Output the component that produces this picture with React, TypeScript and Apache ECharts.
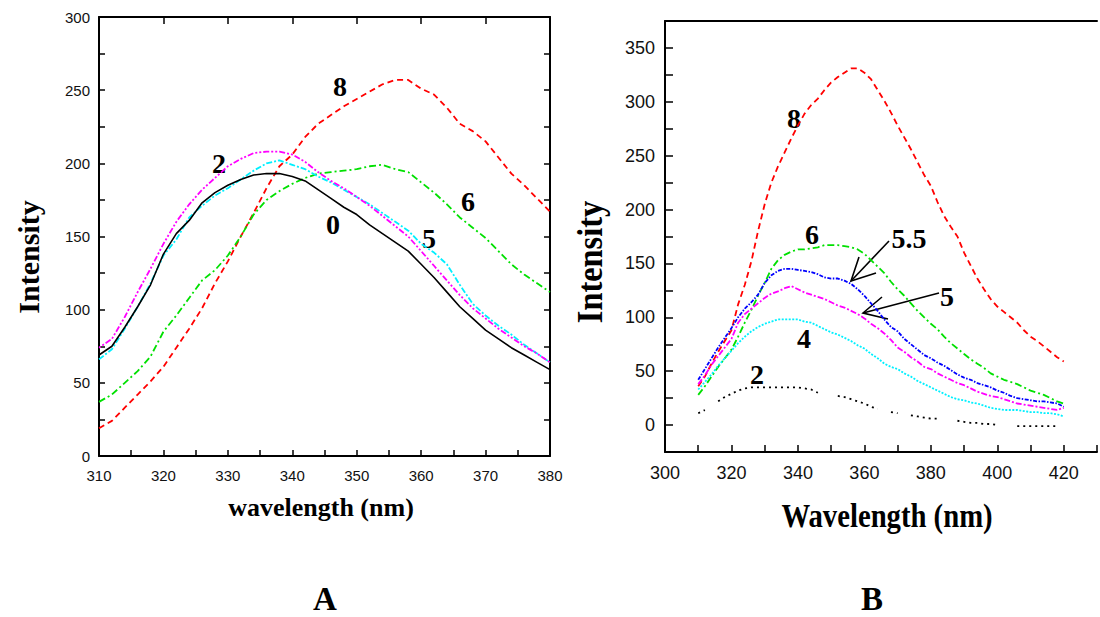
import React, { useEffect, useRef } from "react";
import * as echarts from "echarts";

// ---------- Panel A data ----------
const wavelengthA = [310, 312, 314, 316, 318, 320, 322, 324, 326, 328, 330, 332, 334, 336, 338, 340, 342, 344, 346, 348, 350, 352, 354, 356, 358, 360, 362, 364, 366, 368, 370, 372, 374, 376, 378, 380];
const a0 = [69, 75, 88, 102, 117, 138, 152, 161, 173, 180, 185, 189, 192, 193, 193, 191, 188, 182, 176, 170, 165, 158, 152, 146, 140, 131, 122, 112, 102, 94, 86, 80, 74, 69, 64, 59];
const a2 = [74, 80, 95, 112, 128, 145, 160, 172, 182, 190, 198, 203, 207, 208, 208, 206, 201, 194, 188, 183, 177, 171, 164, 157, 150, 140, 130, 120, 110, 101, 94, 87, 81, 75, 70, 64];
const a5 = [66, 73, 87, 102, 118, 137, 148, 163, 171, 178, 183, 189, 195, 200, 202, 199, 196, 191, 187, 182, 177, 172, 166, 160, 154, 145, 139, 131, 117, 104, 96, 89, 83, 76, 70, 64];
const a6 = [37, 42, 50, 58, 68, 85, 96, 108, 120, 127, 137, 150, 165, 175, 181, 186, 190, 193, 194, 195, 196, 198, 199, 196, 194, 187, 180, 172, 163, 156, 149, 140, 131, 124, 118, 112];
const a8 = [19, 24, 33, 42, 51, 61, 74, 87, 101, 118, 133, 150, 166, 183, 198, 206, 218, 227, 233, 239, 244, 249, 254, 257, 257, 251, 247, 238, 227, 222, 215, 204, 193, 185, 176, 167];

// ---------- Panel B data ----------
const wavelengthB = [310, 312, 314, 316, 318, 320, 322, 324, 326, 328, 330, 332, 334, 336, 338, 340, 342, 344, 346, 348, 350, 352, 354, 356, 358, 360, 362, 364, 366, 368, 370, 372, 374, 376, 378, 380, 382, 384, 386, 388, 390, 392, 394, 396, 398, 400, 402, 404, 406, 408, 410, 412, 414, 416, 418, 420];
const b8 = [36, 45, 57, 68, 78, 88, 112, 130, 152, 180, 205, 225, 240, 253, 266, 278, 289, 297, 303, 311, 318, 323, 327, 331, 331, 327, 321, 311, 301, 290, 278, 267, 256, 244, 232, 222, 207, 194, 184, 175, 160, 148, 136, 126, 117, 110, 105, 100, 95, 88, 82, 78, 73, 68, 63, 59];
const b6 = [28, 36, 45, 54, 62, 70, 82, 95, 107, 120, 132, 145, 153, 158, 161, 163, 163, 164, 165, 167, 167, 167, 166, 165, 163, 159, 153, 147, 141, 133, 126, 120, 113, 106, 100, 94, 89, 82, 76, 71, 66, 61, 57, 53, 48, 45, 42, 40, 38, 35, 32, 30, 28, 25, 22, 20];
const b55 = [42, 52, 62, 72, 81, 90, 100, 108, 114, 121, 132, 139, 143, 145, 145, 144, 143, 142, 140, 137, 136, 136, 134, 131, 126, 120, 113, 106, 98, 91, 87, 80, 75, 70, 65, 62, 58, 55, 51, 47, 44, 42, 39, 37, 35, 32, 30, 27, 25, 24, 23, 22, 22, 21, 20, 17];
const b5 = [38, 46, 56, 64, 72, 80, 95, 103, 108, 113, 118, 122, 124, 127, 129, 126, 123, 121, 119, 117, 114, 111, 109, 106, 103, 99, 94, 90, 85, 79, 72, 68, 63, 59, 54, 52, 48, 45, 42, 39, 37, 34, 31, 29, 27, 26, 24, 22, 20, 19, 18, 17, 16, 15, 14, 16];
const b4 = [33, 40, 47, 55, 62, 69, 76, 82, 87, 91, 94, 96, 98, 98, 98, 98, 96, 95, 92, 89, 86, 84, 81, 78, 74, 71, 66, 62, 57, 54, 52, 48, 45, 41, 38, 35, 32, 29, 26, 24, 23, 21, 20, 18, 16, 15, 14, 14, 14, 13, 12, 12, 11, 11, 10, 8];
const b2 = [11, 14, null, 22, 26, 29, 32, 34, 35, 35, 35, 35, 35, 35, 35, 35, 34, 33, 30, null, null, 27, 26, 24, 22, 20, 17, 15, null, 12, 11, null, 9, 8, 7, 6, 6, null, null, 4, 3, 2, 2, 1, 1, 0, null, null, -1, -1, -1, -1, -1, -1, -1, null];

// ---------- tick labels ----------
const xTicksA = [310, 320, 330, 340, 350, 360, 370, 380];
const yTicksA = [0, 50, 100, 150, 200, 250, 300];
const xTicksB = [300, 320, 340, 360, 380, 400, 420];
const yTicksB = [0, 50, 100, 150, 200, 250, 300, 350];

const pairs = (xs: number[], ys: (number | null)[]) => xs.map((x, i) => [x, ys[i]]);

const SERIF = "'Liberation Serif', 'Times New Roman', serif";
const SANS = "'Liberation Sans', Arial, sans-serif";

export default function App() {
  const ref = useRef<HTMLDivElement>(null);
  useEffect(() => {
    if (!ref.current) return;
    const chart = echarts.init(ref.current, undefined, { renderer: "svg" });
    const axisLine = { show: true, onZero: false, lineStyle: { color: "#000", width: 2 } };
    const baseLabel = { color: "#111", fontFamily: SANS };

    const lineSeries = (name: string, xs: number[], ys: (number | null)[], color: string, type: any, xi: number, yi: number, width = 1.8) => ({
      name,
      type: "line",
      xAxisIndex: xi,
      yAxisIndex: yi,
      data: pairs(xs, ys),
      showSymbol: false,
      symbol: "none",
      connectNulls: false,
      lineStyle: { color, width, type },
      emphasis: { disabled: true },
    });

    const txt = (text: string, x: number, y: number, size: number, extra: any = {}) => ({
      type: "text",
      x,
      y,
      ...extra,
      style: {
        text,
        fontSize: size,
        fontWeight: "bold",
        fontFamily: SERIF,
        fill: "#000",
        align: "center",
        verticalAlign: "middle",
        textAlign: "center",
        textVerticalAlign: "middle",
      },
    });
    const seg = (pts: number[][]) => ({
      type: "polyline",
      shape: { points: pts },
      style: { stroke: "#000", lineWidth: 1.6, fill: null },
    });

    chart.setOption({
      animation: false,
      backgroundColor: "#fff",
      grid: [
        { left: 99, top: 17, width: 451, height: 439 },
        { left: 665, top: 21, width: 442, height: 431 },
      ],
      xAxis: [
        {
          gridIndex: 0, type: "value", position: "bottom", min: 310, max: 380, interval: 5,
          axisLine, splitLine: { show: false },
          axisTick: { inside: true, length: 6, lineStyle: { color: "#000", width: 1.5 } },
          axisLabel: { ...baseLabel, fontSize: 15, margin: 12, formatter: (v: number) => (xTicksA.includes(v) ? String(v) : "") },
        },
        {
          gridIndex: 0, type: "value", position: "top", min: 310, max: 380, interval: 10,
          axisLine, splitLine: { show: false },
          axisTick: { inside: true, length: 7, lineStyle: { color: "#000", width: 1.5 } },
          axisLabel: { show: false },
        },
        {
          gridIndex: 1, type: "value", position: "bottom", min: 300, max: 430, interval: 10,
          axisLine, splitLine: { show: false },
          axisTick: { inside: true, length: 7, lineStyle: { color: "#000", width: 1.5 } },
          axisLabel: { ...baseLabel, fontSize: 18, margin: 12, formatter: (v: number) => (xTicksB.includes(v) ? String(v) : "") },
        },
        {
          gridIndex: 1, type: "value", position: "top", min: 300, max: 430,
          axisLine, splitLine: { show: false }, axisTick: { show: false }, axisLabel: { show: false },
        },
      ],
      yAxis: [
        {
          gridIndex: 0, type: "value", position: "left", min: 0, max: 300, interval: 25,
          axisLine, splitLine: { show: false },
          axisTick: { inside: true, length: 6, lineStyle: { color: "#000", width: 1.5 } },
          axisLabel: { ...baseLabel, fontSize: 15, margin: 9, formatter: (v: number) => (yTicksA.includes(v) ? String(v) : "") },
        },
        {
          gridIndex: 0, type: "value", position: "right", min: 0, max: 300, interval: 25,
          axisLine, splitLine: { show: false },
          axisTick: { inside: true, length: 6, lineStyle: { color: "#000", width: 1.5 } },
          axisLabel: { show: false },
        },
        {
          gridIndex: 1, type: "value", position: "left", min: -25, max: 375, interval: 25,
          axisLine, splitLine: { show: false },
          axisTick: { inside: true, length: 8, lineStyle: { color: "#000", width: 1.5 } },
          axisLabel: { ...baseLabel, fontSize: 18, margin: 10, formatter: (v: number) => (yTicksB.includes(v) ? String(v) : "") },
        },
      ],
      series: [
        lineSeries("A 8", wavelengthA, a8, "#ff0000", [6, 4], 0, 0),
        lineSeries("A 6", wavelengthA, a6, "#00e000", [7, 3, 2, 3], 0, 0),
        lineSeries("A 5", wavelengthA, a5, "#00f0ff", [6, 2, 2, 2], 0, 0),
        lineSeries("A 2", wavelengthA, a2, "#ff00ff", [2, 2, 2, 2, 6, 2], 0, 0),
        lineSeries("A 0", wavelengthA, a0, "#000000", "solid", 0, 0, 1.6),
        lineSeries("B 8", wavelengthB, b8, "#ff0000", [6, 4], 2, 2),
        lineSeries("B 6", wavelengthB, b6, "#00e000", [7, 3, 2, 3], 2, 2),
        lineSeries("B 5.5", wavelengthB, b55, "#0000ff", [4, 1.5, 1.5, 1.5], 2, 2),
        lineSeries("B 5", wavelengthB, b5, "#ff00ff", [6, 2, 2, 2], 2, 2),
        lineSeries("B 4", wavelengthB, b4, "#00f0ff", [2, 1.5], 2, 2),
        lineSeries("B 2", wavelengthB, b2, "#000000", [2, 4], 2, 2),
      ],
      graphic: [
        // Panel A titles
        txt("wavelength (nm)", 321, 507, 26),
        txt("Intensity", 28, 257, 30, { rotation: Math.PI / 2 }),
        txt("A", 325, 599, 33),
        // Panel A curve labels
        txt("8", 340, 86, 28),
        txt("2", 219, 163, 28),
        txt("0", 333, 224, 28),
        txt("5", 429, 238, 28),
        txt("6", 468, 201, 28),
        // Panel B titles
        txt("Wavelength (nm)", 887, 516, 33, { scaleX: 0.87 }),
        txt("Intensity", 589, 262, 36, { rotation: Math.PI / 2, scaleX: 0.9 }),
        txt("B", 872, 599, 33),
        // Panel B curve labels
        txt("8", 794, 118, 28),
        txt("6", 812, 234, 28),
        txt("5.5", 909, 238, 28),
        txt("5", 947, 296, 28),
        txt("4", 804, 338, 28),
        txt("2", 757, 374, 28),
        // arrows
        seg([[889, 241], [851, 281]]),
        seg([[859, 257], [851, 281], [876, 273]]),
        seg([[939, 293], [863, 313]]),
        seg([[882, 297], [863, 313], [888, 319]]),
      ],
    });
    return () => chart.dispose();
  }, []);
  return <div ref={ref} style={{ position: "fixed", left: 0, top: 0, width: 1100, height: 617, background: "#fff" }} />;
}
